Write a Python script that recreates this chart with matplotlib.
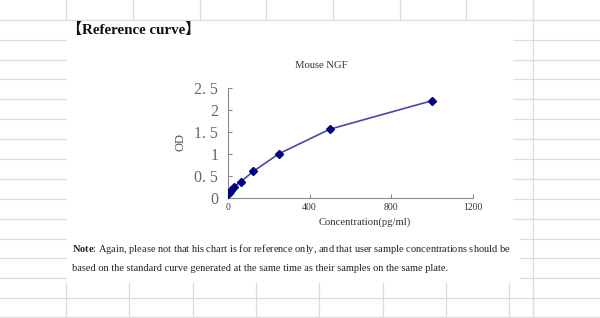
import matplotlib
matplotlib.use("Agg")
import matplotlib.pyplot as plt
from matplotlib.lines import Line2D
from matplotlib.patches import Rectangle

plt.rcParams["mathtext.fontset"] = "custom"
plt.rcParams["mathtext.rm"] = "Liberation Serif"
plt.rcParams["mathtext.bf"] = "Liberation Serif:bold"

# standard curve (pg/ml vs OD)
conc = [0, 7.8, 15.6, 31.25, 62.5, 125, 250, 500, 1000]
od = [0.07, 0.12, 0.17, 0.25, 0.36, 0.60, 1.00, 1.56, 2.21]

x_ticks = [0, 400, 800, 1200]
x_tick_labels = ["0", "400", "800", "1200"]
y_ticks = [0, 0.5, 1, 1.5, 2, 2.5]
y_tick_labels = ["0", "0. 5", "1", "1. 5", "2", "2. 5"]

W, H = 600, 318
fig = plt.figure(figsize=(6, 3.18), dpi=100)


def fx(px):
    return px / W


def fy(py):
    return 1 - py / H


# spreadsheet grid behind the pasted picture
grid_c = "#dcdcdc"
rows = [20, 40, 60, 79, 99, 119, 139, 159, 179, 199, 219, 239, 258, 278, 298, 317]
cols_top = [66, 133, 200, 266, 333, 400, 466, 533]
cols_bottom = [66, 129, 193, 256, 319, 383, 446, 509, 533]

for r in rows:
    fig.add_artist(Line2D([0, 1], [fy(r), fy(r)], transform=fig.transFigure,
                          color=grid_c, lw=0.9, zorder=-3))
for c in cols_top:
    fig.add_artist(Line2D([fx(c), fx(c)], [fy(0), fy(20)], transform=fig.transFigure,
                          color=grid_c, lw=0.9, zorder=-3))
for c in cols_bottom:
    fig.add_artist(Line2D([fx(c), fx(c)], [fy(283), fy(318)], transform=fig.transFigure,
                          color=grid_c, lw=0.9, zorder=-3))
fig.add_artist(Line2D([fx(533), fx(533)], [0, 1], transform=fig.transFigure,
                      color=grid_c, lw=0.9, zorder=-3))

# white pasted area
fig.add_artist(Rectangle((fx(67), fy(229)), (513 - 67) / W, (229 - 21) / H,
                         transform=fig.transFigure, facecolor="white",
                         edgecolor="none", zorder=-2))
fig.add_artist(Rectangle((fx(67), fy(283)), (520 - 67) / W, (283 - 228) / H,
                         transform=fig.transFigure, facecolor="white",
                         edgecolor="none", zorder=-2))

# chart
ax = fig.add_axes([fx(228), fy(197.5), (472.7 - 228) / W, (197.5 - 88) / H])
ax.set_facecolor("none")
ax.plot(conc, od, color="#4848a8", lw=1.2, marker="D", ms=4.2,
        mfc="#000080", mec="#000080", zorder=3)
ax.set_xlim(0, 1200)
ax.set_ylim(0, 2.5)
ax.set_xticks(x_ticks)
ax.set_xticklabels(x_tick_labels, fontsize=7, color="#333333", family="Liberation Serif")
ax.set_yticks(y_ticks)
ax.set_yticklabels(y_tick_labels, fontsize=11.5, color="#666666", family="Liberation Serif")
for s in ["top", "right"]:
    ax.spines[s].set_visible(False)
for s in ["left", "bottom"]:
    ax.spines[s].set_color("#8a8a8a")
    ax.spines[s].set_linewidth(0.8)
ax.tick_params(axis="both", direction="in", length=3, color="#8a8a8a", width=0.8)
ax.tick_params(axis="x", pad=4)
ax.tick_params(axis="y", pad=7)

fig.text(fx(321.5), fy(65), "Mouse NGF", ha="center", va="center",
         fontsize=7.7, family="Liberation Serif", color="#333333")
fig.text(fx(180), fy(142), "OD", ha="center", va="center", rotation=90,
         fontsize=9, family="Liberation Serif", color="#555555")
fig.text(fx(364.5), fy(222.5), "Concentration(pg/ml)", ha="center", va="center",
         fontsize=7.7, family="Liberation Serif", color="#333333")

# header and note
fig.text(fx(67), fy(30), "【Reference curve】", ha="left", va="center",
         fontsize=10.8, fontweight="bold",
         family=["Liberation Serif", "Noto Sans CJK SC"], color="#111111")

fig.text(fx(72), fy(252), r"$\mathbf{Note}$: Again, please not that his chart is for "
         "reference only, and that user sample concentrations should be",
         ha="left", va="baseline", fontsize=7.5, family="Liberation Serif",
         color="#222222")
fig.text(fx(72), fy(271), "based on the standard curve generated at the same time "
         "as their samples on the same plate.", ha="left", va="baseline",
         fontsize=7.5, family="Liberation Serif", color="#222222")

fig.savefig("out.png", dpi=100)
